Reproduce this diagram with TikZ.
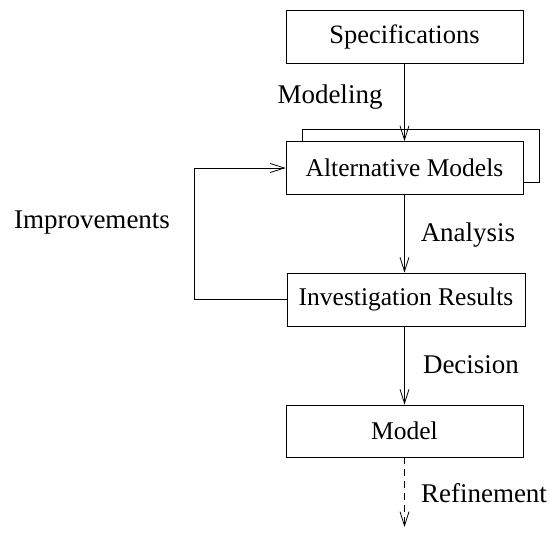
\documentclass[tikz,border=0pt]{standalone}
\usepackage{fontspec}
\setmainfont{Liberation Serif}
\usetikzlibrary{arrows.meta}
\begin{document}
\begin{tikzpicture}[x=1pt,y=-1pt,
  line width=0.8pt,
  box/.style={draw, fill=white, minimum width=237pt, minimum height=53pt,
    inner sep=0pt, font=\fontsize{25.5}{28}\selectfont},
  flow/.style={-{Straight Barb[length=14pt,width=9pt,line width=0.8pt]}},
  lbl/.style={font=\fontsize{27}{30}\selectfont, inner sep=0pt}]
  \useasboundingbox (0,0) rectangle (550,536);

  % process boxes
  \node[box, font=\fontsize{26.5}{29}\selectfont] (spec) at (404.5,36.5) {Specifications};
  \node[box] (altback) at (421,155.5) {};
  \node[box] (alt) at (404.5,168) {Alternative Models};
  \node[box, minimum width=238pt] (inv) at (406,299.5) {Investigation Results};
  \node[box, minimum height=52pt] (model) at (404.5,431) {Model};
  \coordinate (out) at (404.5,527);

  % connectors
  \draw[flow] (spec) -- (alt);
  \draw[flow] (alt) -- (alt |- inv.north);
  \draw[flow] (inv.south -| model) -- (model);
  \draw[flow, dash pattern=on 7pt off 5pt] (model) -- (out);
  \draw[flow] (inv.west) -- ++(-92,0) |- (alt.west);

  % labels
  \node[lbl] (lmod) at (330,97) {Modeling};
  \node[lbl] (limp) at (92,223) {Improvements};
  \node[lbl] (lana) at (468,235) {Analysis};
  \node[lbl] (ldec) at (471,365) {Decision};
  \node[lbl] (lref) at (484,493) {Refinement};
\end{tikzpicture}
\end{document}
